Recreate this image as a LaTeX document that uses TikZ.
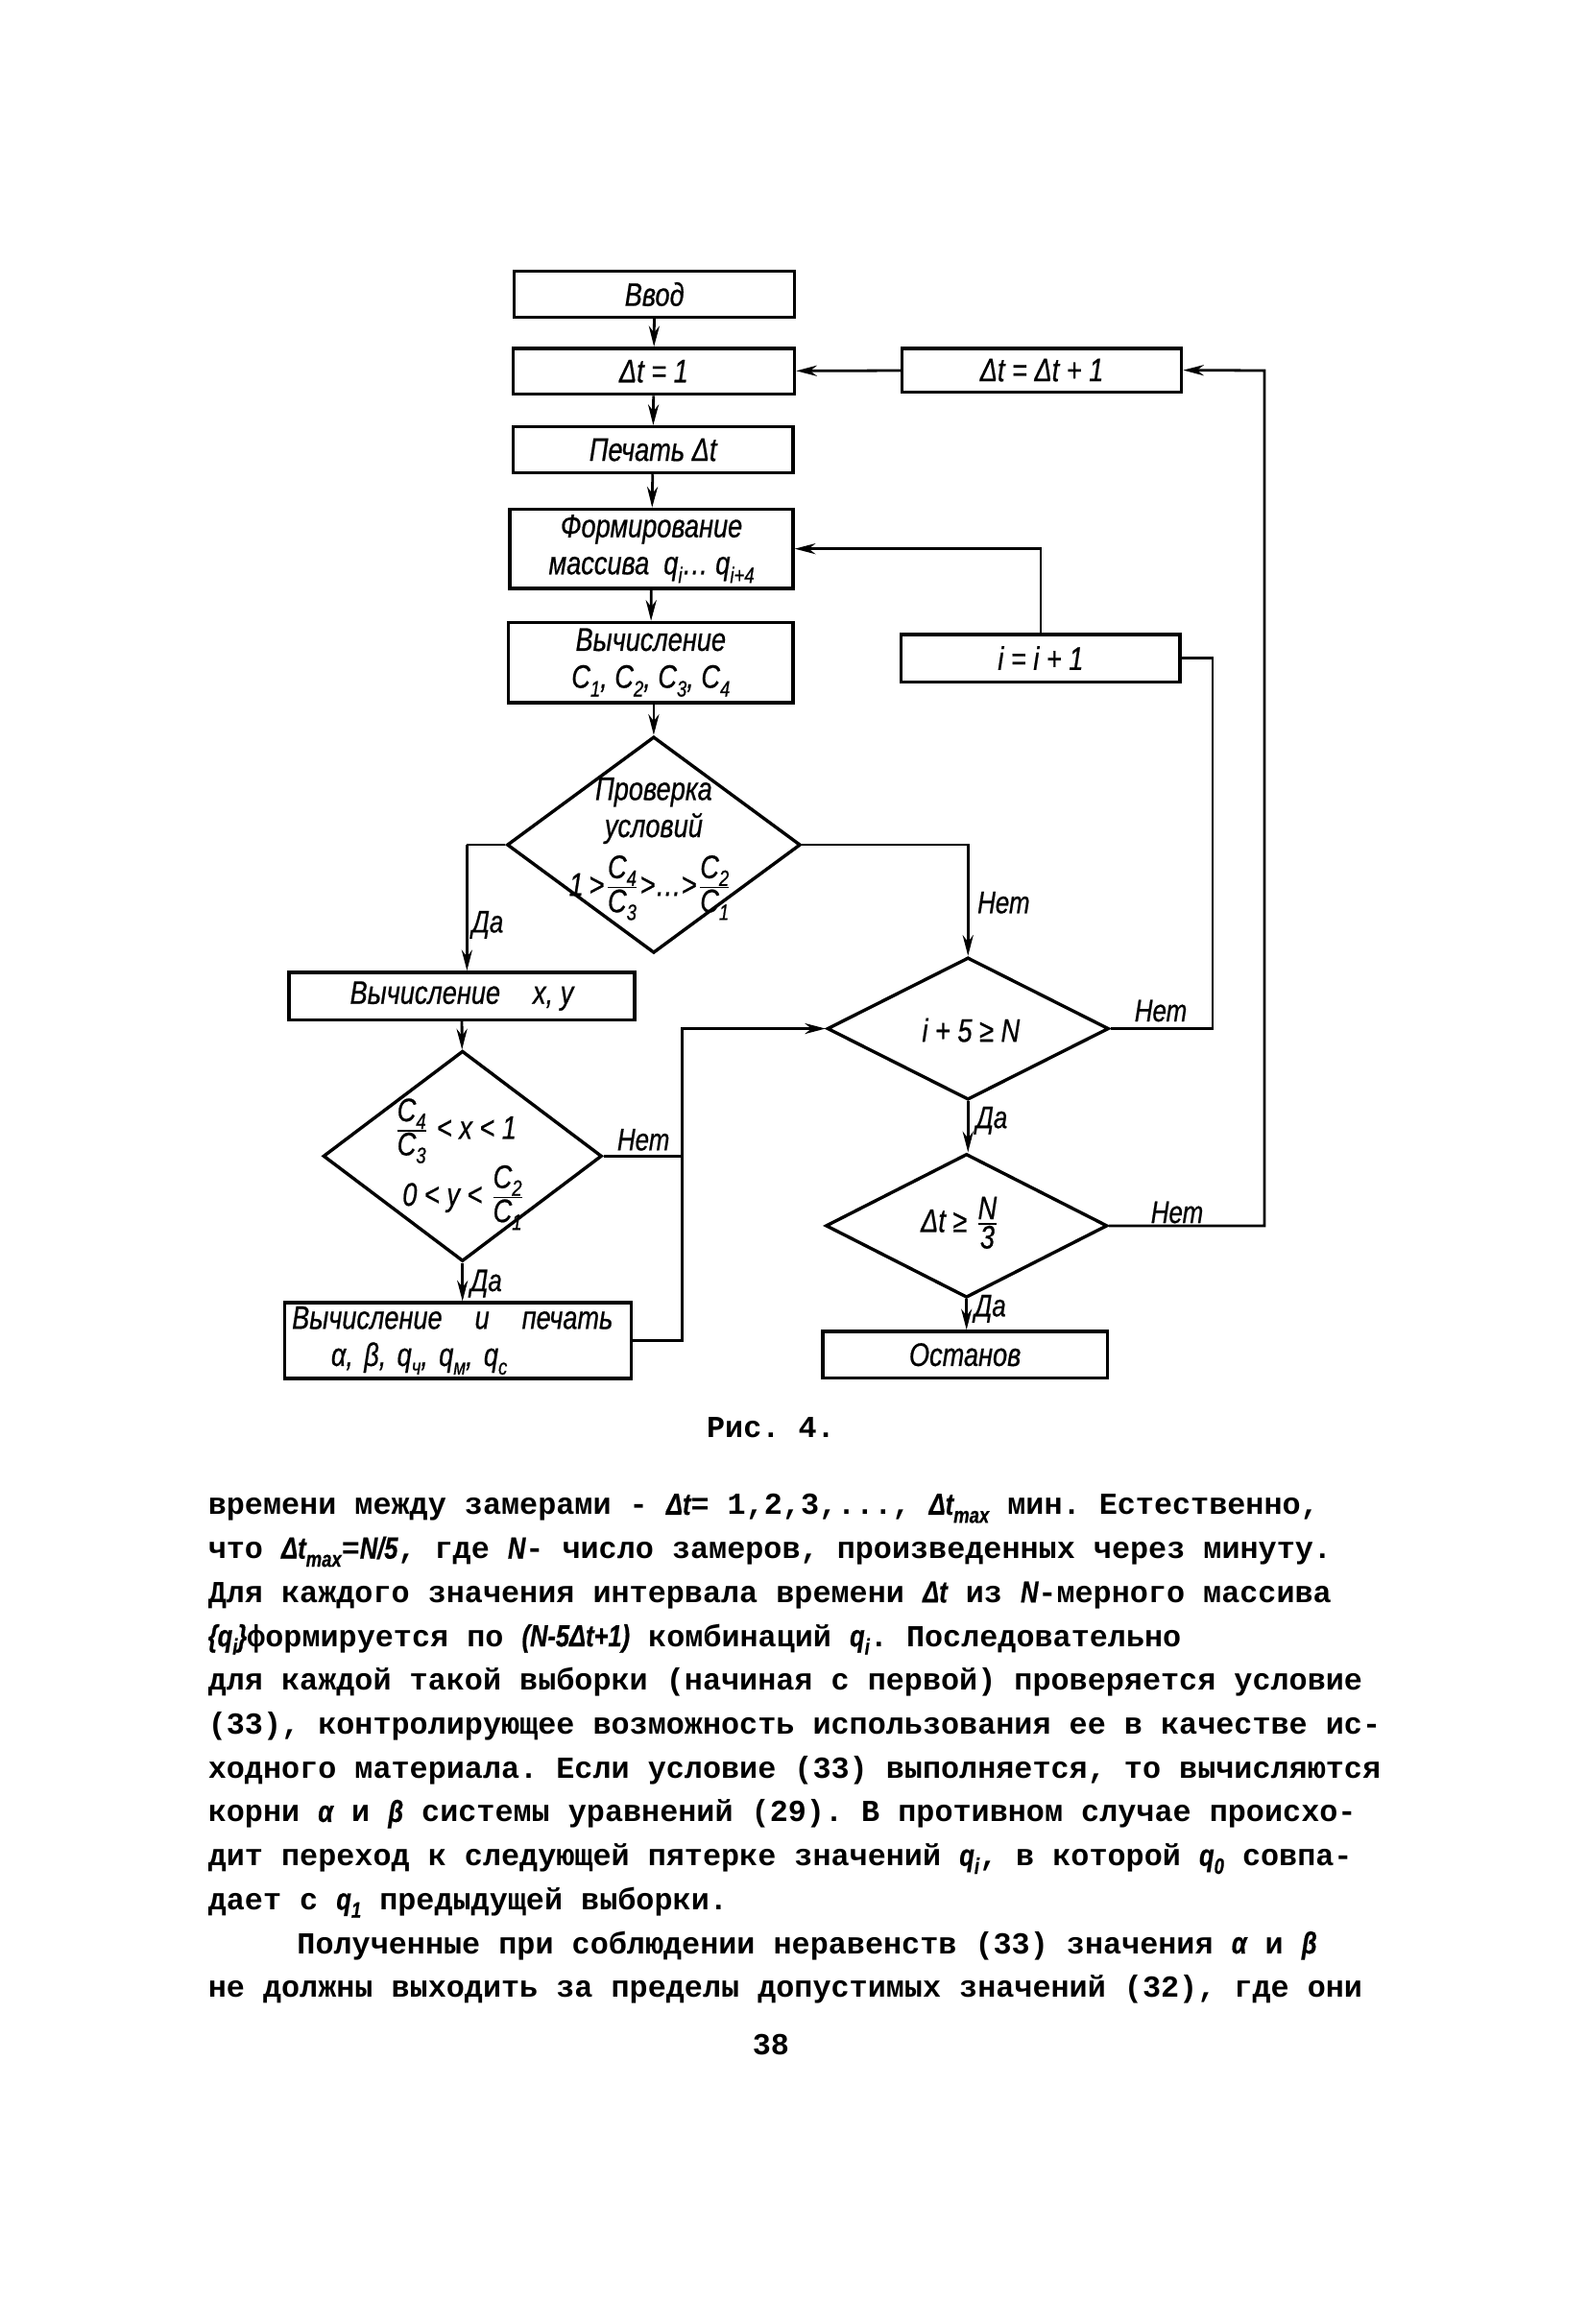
\documentclass[tikz,border=0pt]{standalone}
\usepackage{fontspec}
\usetikzlibrary{shapes.geometric,arrows.meta}
\newfontfamily\lab[FakeStretch=0.8,FakeBold=0.6]{Liberation Sans}
\newfontfamily\mono{Liberation Mono}
\frenchspacing
\newcommand\sbs[1]{\raisebox{-0.5ex}{\fontsize{7.5}{8}\selectfont #1}}
\newcommand\fsb[1]{\raisebox{-0.45ex}{\fontsize{7.5}{8}\selectfont #1}}
\newcommand\fr[2]{\ensuremath{\textstyle\frac{\hbox{\fontsize{11}{11}\selectfont #1}}{\hbox{\fontsize{11}{11}\selectfont #2}}}}
\newcommand\hw[1]{{\lab\itshape #1}}
\begin{document}
\begin{tikzpicture}[x=0.5pt,y=-0.5pt,
 box/.style={draw,line width=1.1pt,inner sep=1pt,align=center,font=\lab\itshape\fontsize{11}{12.5}\selectfont},
 dia/.style={draw,diamond,line width=1.1pt,inner sep=0pt},
 lbl/.style={inner sep=0pt,align=center,font=\lab\itshape\fontsize{11}{12.5}\selectfont},
 yn/.style={inner sep=0pt,anchor=west,font=\lab\itshape\fontsize{10.5}{11}\selectfont},
 conn/.style={line width=0.9pt},
 arr/.style={conn,-{Stealth[length=7pt,width=3.6pt]}},
 body/.style={inner sep=0pt,anchor=base west,font=\mono\bfseries\fontsize{10.3}{12}\selectfont}]
\useasboundingbox (0,0) rectangle (1071,1568);
\fill[white] (0,0) rectangle (1071,1568);

\node[box,minimum width=94.5pt,minimum height=15.5pt] (vvod) at (441.5,198.5) {Ввод};
\node[box,minimum width=95pt,minimum height=15.5pt] (dt1) at (441,250.5) {Δt = 1};
\node[box,minimum width=94.25pt,minimum height=14.75pt] (dtinc) at (702.75,249.75) {Δt = Δt + 1};
\node[box,minimum width=94.5pt,minimum height=15.5pt] (pech) at (440.5,303.5) {Печать Δt};
\node[box,minimum width=95.5pt,minimum height=26.75pt] (form) at (439.5,370.25) {Формирование\\массива\ \ q\sbs{i}… q\sbs{i+4}};
\node[box,minimum width=96pt,minimum height=27pt] (vc) at (439,447) {Вычисление\\C\sbs1, C\sbs2, C\sbs3, C\sbs4};
\node[box,minimum width=94pt,minimum height=16pt] (inc) at (702,444) {i = i + 1};
\node[dia,minimum width=99pt,minimum height=73pt] (d1) at (441,570) {};
\node[lbl] (d1a) at (441,547) {Проверка\\условий};
\node[lbl] (d1b) at (439,599) {1\,>\fr{C\fsb4}{C\fsb3}>…>\fr{C\fsb2}{C\fsb1}};
\node[box,minimum width=116.5pt,minimum height=16pt] (xy) at (311.5,672) {Вычисление\quad x, y};
\node[dia,minimum width=95pt,minimum height=48pt] (d2) at (653,694) {};
\node[lbl] (d2t) at (655,695) {i + 5 ≥ N};
\node[dia,minimum width=94pt,minimum height=71pt] (d3) at (312,780) {};
\node[lbl] (d3a) at (307,763) {\fr{C\fsb4}{C\fsb3} < x < 1};
\node[lbl] (d3b) at (313,808) {0 < y < \fr{C\fsb2}{C\fsb1}};
\node[box,minimum width=117pt,minimum height=25.5pt,text width=112pt,align=left] (pr) at (309,904.5) {Вычисление\quad и\quad печать\\\hspace*{1.2em}α, β, q\sbs{ч}, q\sbs{м}, q\sbs{с}};
\node[dia,minimum width=95pt,minimum height=48.5pt] (d4) at (652,827) {};
\node[lbl] (d4t) at (648,825) {Δt ≥ \fr{N}{3}};
\node[box,minimum width=96pt,minimum height=15.75pt] (stop) at (651,914) {Останов};

\coordinate (c1) at (315,570);
\coordinate (jn) at (460,694);
\coordinate (c2) at (818,444);
\coordinate (c3) at (853,250);

\draw[arr] (vvod) -- (dt1);
\draw[arr] (dt1) -- (pech);
\draw[arr] (pech) -- (form);
\draw[arr] (form) -- (vc);
\draw[arr] (d1.north |- vc.south) -- (d1.north);
\draw[conn] (d1.west) -- (c1);
\draw[arr] (c1) -- (c1 |- xy.north);
\draw[arr] (d1.east) -| (d2.north);
\draw[arr] (xy) -- (d3);
\draw[arr] (d3.south) -- (d3.south |- pr.north);
\draw[conn] (d3.east) -- (d3.east -| jn);
\draw[arr] (pr.east) -| (jn) -- (d2.west);
\draw[conn] (d2.east) -| (c2) -- (inc.east);
\draw[arr] (inc.north) |- (form.east);
\draw[arr] (d2.south) -- (d2.south |- d4.north);
\draw[arr] (d4.east) -| (c3) -- (dtinc.east);
\draw[arr] (dtinc) -- (dt1);
\draw[arr] (d4.south) -- (d4.south |- stop.north);

\node[yn] (l1) at (318,624) {Да};
\node[yn] (l2) at (659,609) {Нет};
\node[yn] (l3) at (765,682) {Нет};
\node[yn] (l4) at (658,756) {Да};
\node[yn] (l5) at (776,818) {Нет};
\node[yn] (l6) at (657,883) {Да};
\node[yn] (l7) at (416,769) {Нет};
\node[yn] (l8) at (317,866) {Да};

\node[body,anchor=base] (cap) at (520,970) {Рис. 4.};
\node[body] (t1) at (140,1022) {времени между замерами - \hw{Δt}= 1,2,3,..., \hw{Δt\sbs{max}} мин. Естественно,};
\node[body] (t2) at (140,1051.6) {что \hw{Δt\sbs{max}}=\hw{N/5}, где \hw{N}- число замеров, произведенных через минуту.};
\node[body] (t3) at (140,1081.2) {Для каждого значения интервала времени \hw{Δt} из \hw{N}-мерного массива};
\node[body] (t4) at (140,1110.8) {\hw{\{q\sbs{i}\}}формируется по \hw{(N-5Δt+1)} комбинаций \hw{q\sbs{i}}. Последовательно};
\node[body] (t5) at (140,1140.4) {для каждой такой выборки (начиная с первой) проверяется условие};
\node[body] (t6) at (140,1170) {(33), контролирующее возможность использования ее в качестве ис-};
\node[body] (t7) at (140,1199.6) {ходного материала. Если условие (33) выполняется, то вычисляются};
\node[body] (t8) at (140,1229.2) {корни \hw{α} и \hw{β} системы уравнений (29). В противном случае происхо-};
\node[body] (t9) at (140,1258.8) {дит переход к следующей пятерке значений \hw{q\sbs{i}}, в которой \hw{q\sbs{0}} совпа-};
\node[body] (t10) at (140,1288.4) {дает с \hw{q\sbs{1}} предыдущей выборки.};
\node[body] (t11) at (200,1318) {Полученные при соблюдении неравенств (33) значения \hw{α} и \hw{β}};
\node[body] (t12) at (140,1347.6) {не должны выходить за пределы допустимых значений (32), где они};
\node[body,anchor=base] (pg) at (520,1386) {38};
\end{tikzpicture}
\end{document}
